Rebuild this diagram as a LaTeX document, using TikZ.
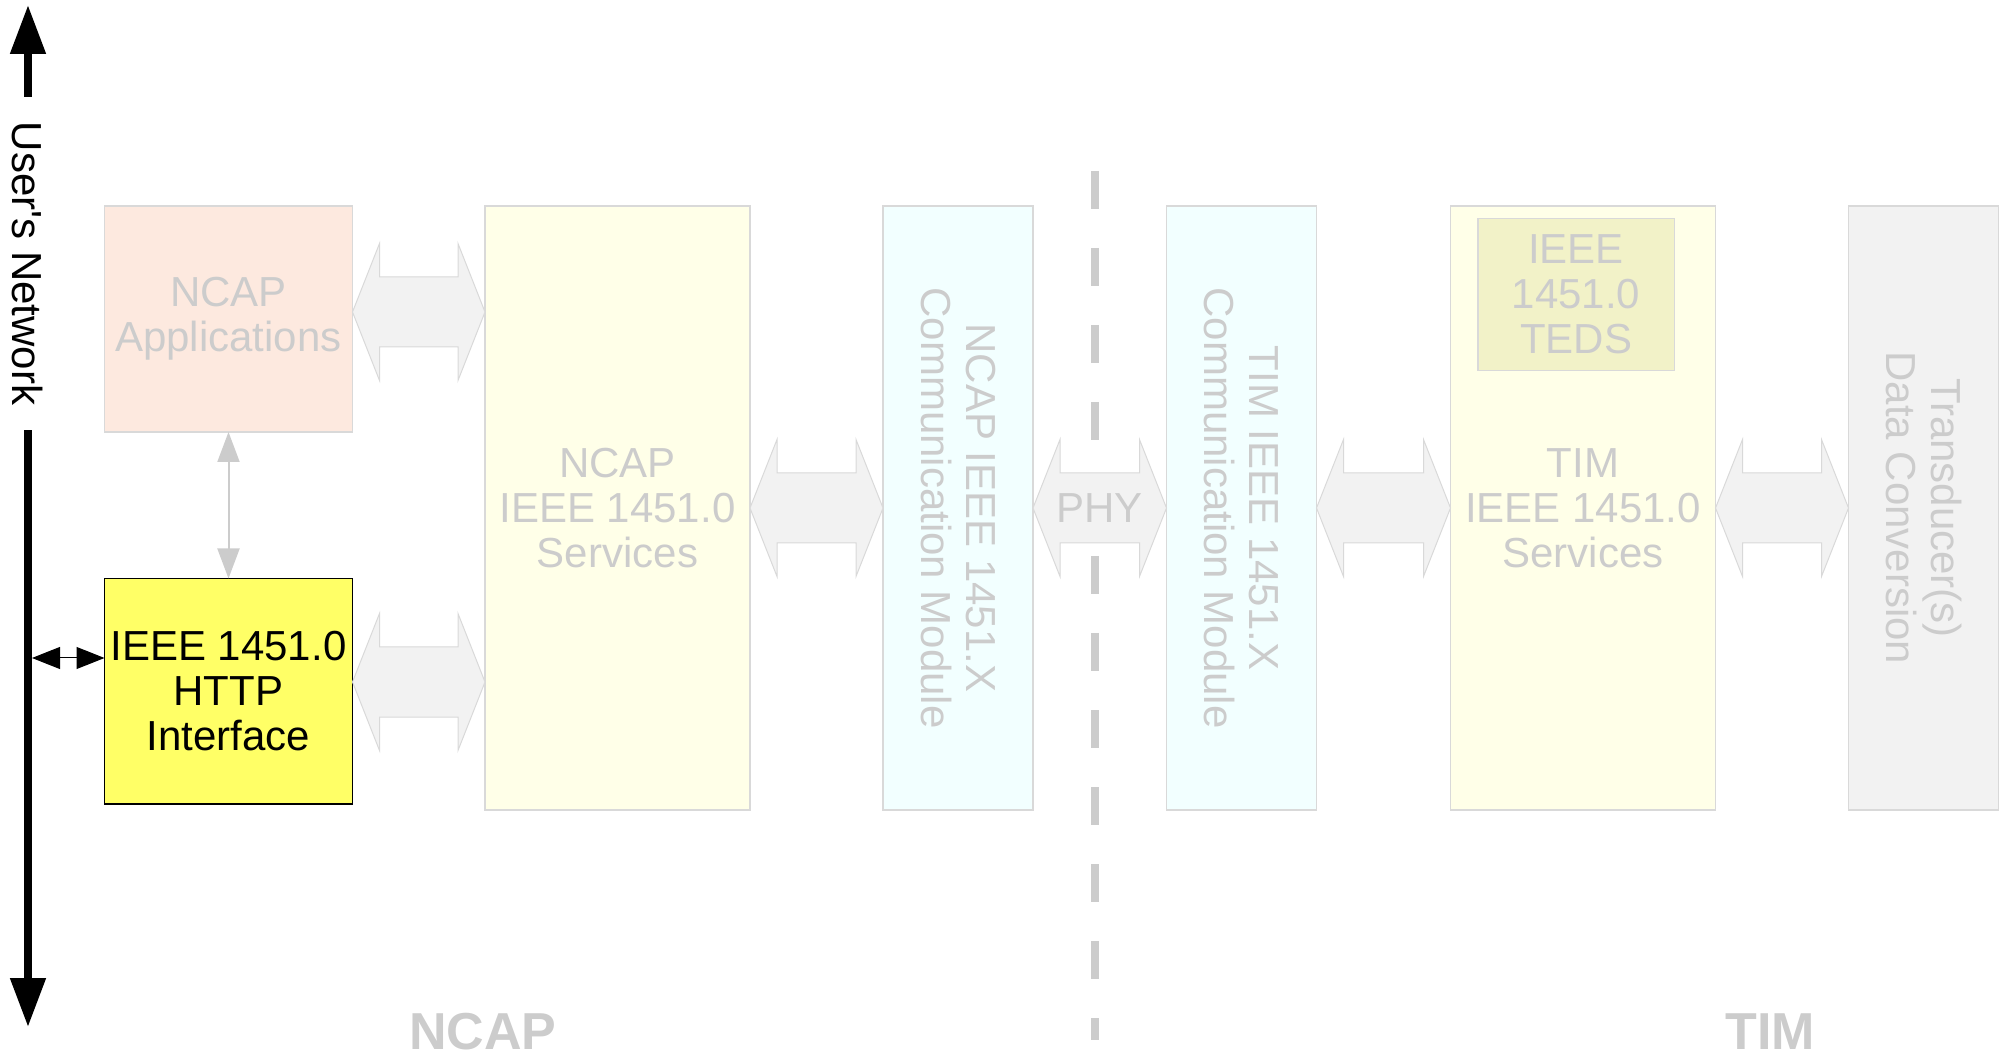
\documentclass[tikz,border=0pt]{standalone}
\usepackage{fontspec}
\setmainfont{Liberation Sans}
\usetikzlibrary{positioning,arrows.meta,calc}

\definecolor{txtgray}{HTML}{CCCCCC}
\definecolor{linegray}{HTML}{D9D9D9}
\definecolor{appsfill}{HTML}{FDE9DF}
\definecolor{srvfill}{HTML}{FFFFE8}
\definecolor{commfill}{HTML}{F2FFFF}
\definecolor{tedsfill}{HTML}{F2F2C8}
\definecolor{arrowfill}{HTML}{F2F2F2}
\definecolor{httpfill}{HTML}{FFFF66}

\tikzstyle{every node}=[inner sep=0pt, outer sep=0pt, align=center, font=\fontsize{21}{22.5}\selectfont]
\tikzstyle{block}=[draw=linegray, line width=0.75pt, text=txtgray]
\tikzstyle{tall}=[block, minimum height=302pt]
\tikzstyle{vtext}=[text=txtgray, rotate=-90]
\tikzstyle{blockarrow}=[draw=linegray, fill=arrowfill, line width=0.5pt]
\tikzstyle{side}=[text=txtgray, font=\fontsize{26}{30}\selectfont\bfseries]
\tikzstyle{netarrow}=[line width=4pt, <->, >={Triangle[width=17pt,length=24.5pt]}]
\tikzstyle{portarrow}=[line width=0.5pt, <->, >={Triangle[width=11pt,length=14pt]}]
\tikzstyle{apparrow}=[txtgray, line width=1pt, <->, >={Triangle[width=11pt,length=15pt]}]

% double block arrow from #1 to #2 at height #3
\newcommand{\linkarrow}[3]{%
  \coordinate (ya) at (0,#3);
  \coordinate (al) at (#1.east |- ya);
  \coordinate (ar) at (#2.west |- ya);
  \draw[blockarrow] (al) -- ++(27,-68.5) -- ++(0,33.5) -- ([shift={(-27,-35)}]ar) -- ++(0,-33.5)
    -- (ar) -- ++(-27,68.5) -- ++(0,-33.5) -- ([shift={(27,35)}]al) -- ++(0,33.5) -- cycle;
}

\begin{document}
\begin{tikzpicture}[x=0.5pt, y=-0.5pt]
    \useasboundingbox (0,0) rectangle (2003,1058);

    \node [block, fill=appsfill, minimum width=124pt, minimum height=113pt] (apps) at (228.5,319) {NCAP\\Applications};
    \node [draw=black, line width=0.75pt, fill=httpfill, minimum width=124pt, minimum height=112.75pt,
        below=73.25pt of apps] (http) {IEEE 1451.0\\HTTP\\Interface};
    \node [tall, fill=srvfill, minimum width=132.5pt, right=66.25pt of apps.north east, anchor=north west] (ncapsrv) {NCAP\\IEEE 1451.0\\Services};
    \node [tall, fill=commfill, minimum width=75pt, right=66.5pt of ncapsrv] (ncapcomm) {};
    \node [tall, fill=commfill, minimum width=75pt, right=66.75pt of ncapcomm] (timcomm) {};
    \node [tall, fill=srvfill, minimum width=132.5pt, right=67pt of timcomm] (timsrv) {TIM\\IEEE 1451.0\\Services};
    \node [block, fill=tedsfill, minimum width=98.25pt, minimum height=76pt, below=6.25pt of timsrv.north, xshift=-3.5pt] (teds) {IEEE\\1451.0\\TEDS};
    \node [tall, fill=arrowfill, minimum width=75pt, right=66.5pt of timsrv] (trans) {};

    \node [vtext] at (ncapcomm) {NCAP IEEE 1451.X\\Communication Module};
    \node [vtext] at (timcomm) {TIM IEEE 1451.X\\Communication Module};
    \node [vtext] at (trans) {Transducer(s)\\Data Conversion};

    \coordinate (divtop) at (1095,171);
    \coordinate (divbot) at (1095,1040);
    \draw [txtgray, line width=4pt, dash pattern=on 19pt off 19.5pt] (divtop) -- (divbot);

    \linkarrow{apps}{ncapsrv}{312}
    \linkarrow{http}{ncapsrv}{682}
    \linkarrow{ncapsrv}{ncapcomm}{508}
    \linkarrow{ncapcomm}{timcomm}{508}
    \linkarrow{timcomm}{timsrv}{508}
    \linkarrow{timsrv}{trans}{508}
    \node [text=txtgray] (phy) at ($(ncapcomm.east)!0.5!(timcomm.west)$) {PHY};

    \draw [apparrow] (apps.south) -- (http.north);

    \coordinate (nettop) at (28,5);
    \coordinate (netbot) at (28,1027);
    \draw [netarrow] (nettop) -- (netbot);
    \node [fill=white, rotate=-90, inner xsep=12.5pt, inner ysep=2pt] (netlabel) at (28,263.5) {User\textquotesingle s Network};
    \coordinate (netport) at (32,658);
    \draw [portarrow] (netport) -- (netport -| http.west);

    \node [side] (ncaplbl) at (483,1032) {NCAP};
    \node [side] (timlbl) at (1770,1032) {TIM};
\end{tikzpicture}
\end{document}
